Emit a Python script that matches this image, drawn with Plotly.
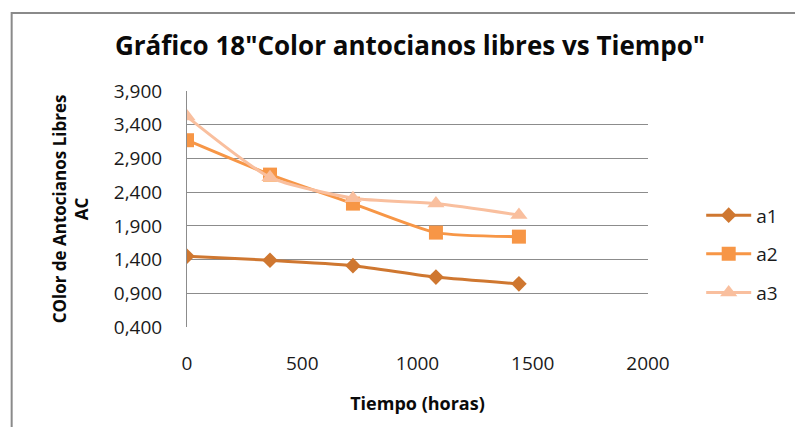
import plotly.graph_objects as go

# Sampling times (hours) and free-anthocyanin colour readings (AC)
tiempo = [0, 360, 720, 1080, 1440]
a1 = [1.45, 1.39, 1.31, 1.14, 1.04]
a2 = [3.17, 2.66, 2.23, 1.80, 1.74]
a3 = [3.52, 2.62, 2.31, 2.23, 2.06]

series = [
    ("a1", a1, "#CF7730", "diamond", 12),
    ("a2", a2, "#F79646", "square", 14),
    ("a3", a3, "#F9BF9E", "triangle-up", 15),
]

W, H = 795, 427
L, R, T, B = 187, 140, 91, 100

fig = go.Figure()
for name, vals, color, symbol, size in series:
    fig.add_trace(go.Scatter(
        x=tiempo, y=vals, name=name, legendgroup=name,
        mode="lines+markers",
        line=dict(color=color, width=3, shape="spline", smoothing=0.6),
        marker=dict(symbol=symbol, size=size, color=color),
    ))

grid = "#8C8C8C"
fig.update_layout(
    width=W, height=H,
    margin=dict(l=L, r=R, t=T, b=B),
    paper_bgcolor="white", plot_bgcolor="white",
    separators=",.",
    font=dict(family="Open Sans", size=19, color="#1A1A1A"),
    title=dict(
        text="Gráfico 18\"Color antocianos libres vs Tiempo\"",
        font=dict(family="Open Sans", size=26, color="#0A0A0A", weight="bold"),
        x=410 / W, xanchor="center", xref="container",
        y=1 - 46 / H, yanchor="middle", yref="container",
    ),
    xaxis=dict(
        range=[0, 2000], tick0=0, dtick=500,
        showgrid=False, zeroline=False, showline=False,
        ticks="", ticklabelstandoff=23,
        title=dict(text="<b>Tiempo (horas)</b>", standoff=22,
                   font=dict(size=18, color="#0A0A0A")),
    ),
    yaxis=dict(
        range=[0.4, 3.9], tick0=0.4, dtick=0.5, tickformat=".3f",
        showgrid=True, gridcolor=grid, gridwidth=1,
        zeroline=False, showline=True, linecolor=grid, linewidth=1,
        ticks="", ticklabelstandoff=20,
        title=dict(text="<b>COlor de Antocianos Libres<br>AC</b>", standoff=20,
                   font=dict(size=17, color="#0A0A0A")),
    ),
    legend=dict(
        x=(709 - L) / (W - L - R), xanchor="left",
        y=(326.7 - 254) / (H - T - B), yanchor="middle",
        font=dict(size=19, color="#1A1A1A"),
        tracegroupgap=11, itemwidth=45,
        bgcolor="rgba(0,0,0,0)",
    ),
)

# Chart frame (runs past the right and bottom edges of the page)
fig.add_shape(
    type="rect", xref="paper", yref="paper",
    x0=(9 - L) / (W - L - R), x1=(W + 20 - L) / (W - L - R),
    y0=(H - B - (H + 20)) / (H - T - B), y1=(H - B - 13) / (H - T - B),
    line=dict(color="#8A8A8A", width=2), layer="below",
)

fig.write_html("out.html")
